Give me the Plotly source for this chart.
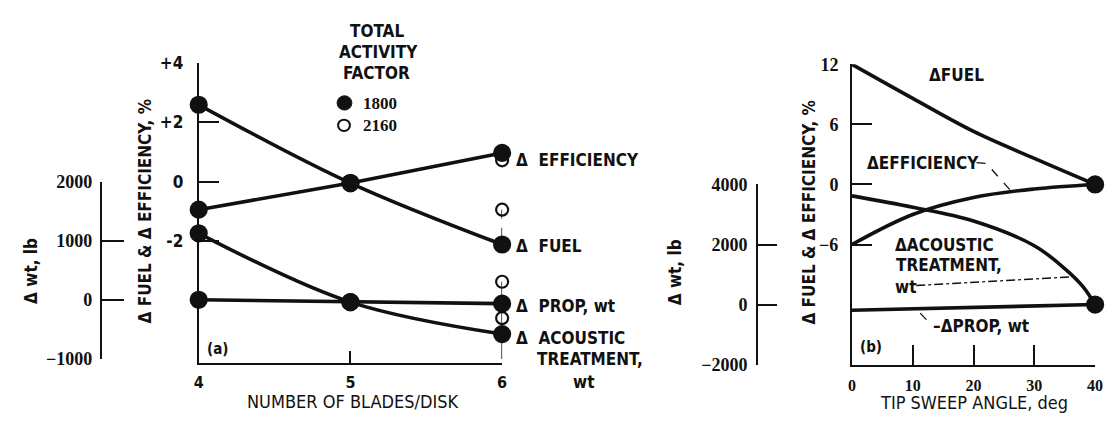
import plotly.graph_objects as go

# ---------------------------------------------------------------- data
# (a) number of blades per disk
blades = [4, 5, 6]
fuel_1800 = [2.6, -0.05, -2.13]          # delta fuel, %
eff_1800 = [-0.95, -0.05, 0.97]          # delta efficiency, %
acoustic_1800 = [1125, -40, -580]        # delta acoustic treatment wt, lb
prop_1800 = [0, -40, -65]                # delta prop wt, lb

blades_2160 = [6]
fuel_2160 = [-0.95]
eff_2160 = [0.72]
acoustic_2160 = [-310]
prop_2160 = [305]

# (b) tip sweep angle, deg
sweep = [0, 10, 20, 30, 40]
fuel_sweep = [12.0, 8.6, 5.3, 2.6, 0.0]
eff_sweep = [-6.0, -3.0, -1.3, -0.45, 0.0]
sweep_ac = [0, 10, 20, 30, 35, 38, 40]
acoustic_sweep = [3620, 3240, 2780, 1960, 1200, 600, 0]
prop_sweep = [-190, 0]
prop_sweep_x = [0, 40]

pct_ticks_a = [4, 2, 0, -2]
pct_text_a = ["+4", "+2", "0", "-2"]
wt_ticks_a = [2000, 1000, 0, -1000]
pct_ticks_b = [12, 6, 0, -6]
wt_ticks_b = [4000, 2000, 0, -2000]

W, H = 1113, 428
FONT = "DejaVu Sans Condensed, Liberation Sans Narrow, Roboto, sans-serif"
SERIF = "Liberation Serif, DejaVu Serif, serif"
INK = "#111111"


def px(x):
    return x / W


def py(y):
    return 1 - y / H


fig = go.Figure()

LW = 3.6
DOT = 16


def curve(x, y, xa, ya, shape="spline"):
    fig.add_trace(go.Scatter(x=x, y=y, xaxis=xa, yaxis=ya, mode="lines",
                             line=dict(color=INK, width=LW, shape=shape, smoothing=1.0),
                             hoverinfo="skip", showlegend=False))


def dots(x, y, xa, ya, filled=True, size=DOT):
    fig.add_trace(go.Scatter(
        x=x, y=y, xaxis=xa, yaxis=ya, mode="markers", cliponaxis=False,
        marker=dict(size=size if filled else 12, symbol="circle" if filled else "circle-open",
                    color=INK, line=dict(color=INK, width=2.2)),
        hoverinfo="skip", showlegend=False))


# --- panel (a)
curve(blades, fuel_1800, "x", "y")
curve(blades, eff_1800, "x", "y", shape="linear")
curve(blades, acoustic_1800, "x", "y2")
curve(blades, prop_1800, "x", "y2", shape="linear")
dots(blades_2160, eff_2160, "x", "y", filled=False)
dots(blades_2160, fuel_2160, "x", "y", filled=False)
dots(blades_2160, acoustic_2160, "x", "y2", filled=False)
dots(blades_2160, prop_2160, "x", "y2", filled=False)
dots(blades, fuel_1800, "x", "y")
dots(blades, eff_1800, "x", "y")
dots(blades, acoustic_1800, "x", "y2")
dots(blades, prop_1800, "x", "y2")

# --- panel (b)
curve(sweep, fuel_sweep, "x2", "y3")
curve(sweep, eff_sweep, "x2", "y3")
curve(sweep_ac, acoustic_sweep, "x2", "y4")
curve(prop_sweep_x, prop_sweep, "x2", "y4", shape="linear")
dots([sweep[-1]], [fuel_sweep[-1]], "x2", "y3")
dots([sweep_ac[-1]], [acoustic_sweep[-1]], "x2", "y4")

axis_common = dict(showline=True, linecolor=INK, linewidth=2, showgrid=False, zeroline=False,
                   ticks="inside", tickcolor=INK, tickwidth=1.6,
                   tickfont=dict(family=FONT, size=17, color=INK, weight="bold"), fixedrange=True)
wt_font = dict(family=SERIF, size=18, color=INK, weight="bold")
sweep_font = dict(family=SERIF, size=16, color=INK, weight="bold")
blade_font = dict(family=FONT, size=16, color=INK, weight="bold")

fig.update_layout(
    width=W, height=H, margin=dict(l=0, r=0, t=0, b=0),
    paper_bgcolor="white", plot_bgcolor="rgba(0,0,0,0)", showlegend=False,
    font=dict(family=FONT, color=INK),
    xaxis=dict(axis_common, domain=[px(196), px(503)], range=[4, 6], anchor="y",
               tickvals=blades, ticklen=12, ticklabelstandoff=4, tickfont=blade_font),
    yaxis=dict(axis_common, domain=[py(370), py(56)], range=[-6.13, 4], anchor="x",
               tickvals=pct_ticks_a, ticktext=pct_text_a, ticklen=20, ticklabelstandoff=10),
    yaxis2=dict(axis_common, domain=[py(366), py(180)], range=[-1000, 2000], anchor="free",
                position=px(97), tickvals=wt_ticks_a, ticklen=22, ticklabelstandoff=4,
                tickfont=wt_font),
    xaxis2=dict(axis_common, domain=[px(857), px(1103)], range=[0, 40], anchor="y3",
                tickvals=sweep, ticklen=20, ticklabelstandoff=5, tickfont=sweep_font),
    yaxis3=dict(axis_common, domain=[py(372), py(57)], range=[-18, 12], anchor="x2",
                tickvals=pct_ticks_b, ticklen=20, ticklabelstandoff=8, tickfont=wt_font),
    yaxis4=dict(axis_common, domain=[py(372), py(183)], range=[-2000, 4000], anchor="free",
                position=px(761), tickvals=wt_ticks_b, ticklen=19, ticklabelstandoff=5,
                tickfont=wt_font),
)

# connectors at six blades
fig.add_shape(type="line", xref="x", yref="y", x0=6, x1=6, y0=fuel_2160[0], y1=fuel_1800[2],
              line=dict(color=INK, width=1.5, dash="dash"))
fig.add_shape(type="line", xref="x", yref="y2", x0=6, x1=6, y0=prop_2160[0], y1=-1065,
              line=dict(color=INK, width=1.5))


# leader lines in panel (b)
def leader(points, dash="dash"):
    path = "M " + " L ".join(f"{px(x)},{py(y)}" for x, y in points)
    fig.add_shape(type="path", xref="paper", yref="paper", path=path,
                  line=dict(color=INK, width=1.3, dash=dash))


leader([(983, 160), (993, 161), (1018, 190)])
leader([(922, 289), (1078, 280)], dash="dashdot")
leader([(926, 318), (937, 330)])


def label(x, y, text, size=17, anchor="left", angle=0, family=FONT, weight="bold"):
    fig.add_annotation(x=px(x), y=py(y), xref="paper", yref="paper", text=text,
                       showarrow=False, xanchor=anchor, yanchor="middle", textangle=angle,
                       font=dict(family=family, size=size, color=INK, weight=weight))


# axis titles
label(26, 274, "Δ wt, lb", anchor="center", angle=-90)
label(142, 211, "Δ FUEL & Δ EFFICIENCY, %", anchor="center", angle=-90)
label(352, 411, "NUMBER OF BLADES/DISK", anchor="center", size=18, weight="normal")
label(678, 275, "Δ wt, lb", anchor="center", angle=-90)
label(814, 212, "Δ FUEL & Δ EFFICIENCY, %", anchor="center", angle=-90)
label(980, 412, "TIP SWEEP ANGLE, deg", anchor="center", size=18, weight="normal")

# legend
label(376, 22, "TOTAL", anchor="center")
label(378, 44, "ACTIVITY", anchor="center")
label(376, 66, "FACTOR", anchor="center")
fig.add_shape(type="circle", xref="paper", yref="paper", x0=px(336), x1=px(351), y0=py(90), y1=py(105),
              fillcolor=INK, line=dict(color=INK, width=1))
fig.add_shape(type="circle", xref="paper", yref="paper", x0=px(337), x1=px(349), y0=py(115), y1=py(127),
              line=dict(color=INK, width=2))
label(360, 98, "1800", family=SERIF)
label(360, 121, "2160", family=SERIF)

# series labels, panel (a)
label(515, 157, "Δ  EFFICIENCY")
label(515, 248, "Δ  FUEL")
label(515, 311, "Δ  PROP, wt")
label(515, 344, "Δ  ACOUSTIC")
label(536, 366, "TREATMENT,")
label(573, 390, "wt")
label(202, 356, "(a)", size=15)

# series labels, panel (b)
label(933, 68, "ΔFUEL")
label(870, 161, "ΔEFFICIENCY")
label(898, 246, "ΔACOUSTIC")
label(900, 268, "TREATMENT,")
label(899, 291, "wt")
label(937, 331, "–ΔPROP, wt")
label(863, 353, "(b)", size=15)

fig.write_html("out.html")
